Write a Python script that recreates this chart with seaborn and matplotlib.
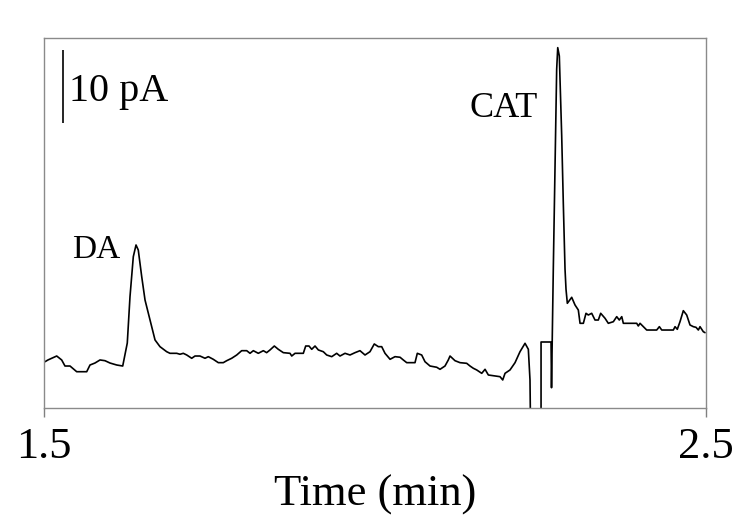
import numpy as np
import pandas as pd
import matplotlib
matplotlib.use("Agg")
import matplotlib.pyplot as plt
import seaborn as sns

# electropherogram trace: time (min) and current (pA)
time_min = [
    1.5015, 1.5060, 1.5192, 1.5267, 1.5317, 1.5393, 1.5494, 1.5569, 1.5645, 1.5695,
    1.5770, 1.5846, 1.5921, 1.5997, 1.6098, 1.6189, 1.6258, 1.6299, 1.6349, 1.6390,
    1.6424, 1.6476, 1.6526, 1.6601, 1.6677, 1.6752, 1.6853, 1.6903, 1.7005, 1.7054,
    1.7104, 1.7156, 1.7231, 1.7281, 1.7356, 1.7432, 1.7482, 1.7557, 1.7633, 1.7708,
    1.7760, 1.7835, 1.7911, 1.7986, 1.8062, 1.8112, 1.8162, 1.8237, 1.8313, 1.8363,
    1.8414, 1.8479, 1.8539, 1.8615, 1.8716, 1.8742, 1.8792, 1.8917, 1.8953, 1.9003,
    1.9044, 1.9094, 1.9144, 1.9219, 1.9270, 1.9346, 1.9421, 1.9471, 1.9547, 1.9622,
    1.9698, 1.9773, 1.9849, 1.9924, 1.9989, 2.0050, 2.0101, 2.0151, 2.0227, 2.0302,
    2.0378, 2.0427, 2.0479, 2.0579, 2.0604, 2.0639, 2.0705, 2.0755, 2.0831, 2.0932,
    2.0982, 2.1057, 2.1107, 2.1133, 2.1208, 2.1284, 2.1385, 2.1435, 2.1485, 2.1536,
    2.1612, 2.1662, 2.1712, 2.1888, 2.1929, 2.1964, 2.2039, 2.2115, 2.2190, 2.2266,
    2.2316, 2.2341, 2.2352, 2.2508, 2.2508, 2.2659, 2.2666, 2.2678, 2.2693, 2.2719,
    2.2744, 2.2760, 2.2784, 2.2820, 2.2844, 2.2870, 2.2885, 2.2905, 2.2971, 2.3021,
    2.3071, 2.3097, 2.3147, 2.3187, 2.3222, 2.3273, 2.3323, 2.3373, 2.3409, 2.3474,
    2.3524, 2.3600, 2.3651, 2.3690, 2.3727, 2.3751, 2.3953, 2.3977, 2.4003, 2.4053,
    2.4104, 2.4255, 2.4295, 2.4331, 2.4506, 2.4532, 2.4566, 2.4607, 2.4657, 2.4708,
    2.4758, 2.4808, 2.4849, 2.4884, 2.4909, 2.4959, 2.4985,
]
current_pA = [
    6.34, 6.58, 7.12, 6.58, 5.75, 5.75, 4.97, 4.97, 4.97, 5.89,
    6.16, 6.58, 6.48, 6.16, 5.89, 5.75, 8.90, 15.25, 20.73, 22.33,
    21.64, 17.99, 14.79, 12.05, 9.32, 8.40, 7.71, 7.49, 7.49, 7.36,
    7.49, 7.26, 6.81, 7.12, 7.12, 6.81, 7.03, 6.67, 6.21, 6.21,
    6.48, 6.81, 7.26, 7.85, 7.85, 7.49, 7.85, 7.49, 7.85, 7.58,
    7.95, 8.49, 8.04, 7.58, 7.49, 7.12, 7.49, 7.49, 8.49, 8.49,
    8.04, 8.49, 7.95, 7.71, 7.26, 7.03, 7.49, 7.12, 7.49, 7.26,
    7.58, 7.85, 7.26, 7.71, 8.77, 8.40, 8.40, 7.49, 6.67, 7.03,
    6.95, 6.58, 6.21, 6.21, 6.21, 7.49, 7.26, 6.34, 5.75, 5.58,
    5.30, 5.75, 6.58, 7.12, 6.48, 6.21, 6.12, 5.75, 5.44, 5.21,
    4.75, 5.30, 4.52, 4.29, 3.84, 4.75, 5.21, 6.21, 7.71, 8.86,
    8.04, 3.84, -5.00, -5.00, 9.04, 9.04, 2.78, 10.18, 19.00, 32.70,
    46.40, 49.36, 48.22, 37.26, 28.12, 19.04, 16.26, 14.34, 15.16, 14.11,
    13.42, 11.60, 11.60, 12.97, 12.74, 12.97, 12.05, 12.05, 12.97, 12.29,
    11.60, 11.82, 12.51, 12.05, 12.51, 11.60, 11.60, 11.23, 11.60, 11.14,
    10.68, 10.68, 11.14, 10.68, 10.68, 11.14, 10.78, 11.82, 13.33, 12.74,
    11.37, 11.14, 11.05, 10.68, 11.14, 10.45, 10.32,
]

tick_values = [1.5, 2.5]
tick_labels = ["1.5", "2.5"]

# 10 pA scale bar
scale_x = 1.5287
scale_bottom = 39.0
scale_len = 10

peak_labels = ["DA", "CAT"]
peak_label_x = [1.5430, 2.1430]
peak_label_y = [20.5, 39.9]
peak_label_size = [24, 26]

df = pd.DataFrame({"time": time_min, "current": current_pA})

sns.set_theme(style="white")
plt.rcParams["font.family"] = ["Liberation Serif", "DejaVu Serif"]
plt.rcParams["text.color"] = "black"
plt.rcParams["axes.labelcolor"] = "black"
plt.rcParams["xtick.color"] = "black"

fig = plt.figure(figsize=(7.56, 5.22), dpi=100)
ax = fig.add_axes([0.0582, 0.2184, 0.8757, 0.7088])

sns.lineplot(data=df, x="time", y="current", sort=False, estimator=None,
             color="black", linewidth=1.2, ax=ax)

ax.vlines(scale_x, scale_bottom, scale_bottom + scale_len, color="black", linewidth=1.2)
ax.text(scale_x + 0.0085, 42.05, f"{scale_len} pA", fontsize=29, ha="left", va="baseline")

for lab, x, y, s in zip(peak_labels, peak_label_x, peak_label_y, peak_label_size):
    ax.text(x, y, lab, fontsize=s, ha="left", va="baseline")

ax.set_xlim(1.5, 2.5)
ax.set_ylim(0, 50.68)
ax.set_xticks(tick_values)
ax.set_xticklabels(tick_labels, fontsize=32)
ax.set_yticks([])
ax.tick_params(axis="x", direction="out", length=6.5, width=1, color="#808080",
               labelcolor="black", pad=7, bottom=True)
ax.set_xlabel("Time (min)", fontsize=32, labelpad=6)
ax.set_ylabel("")

for side in ["left", "right", "top", "bottom"]:
    ax.spines[side].set_color("#8a8a8a")
    ax.spines[side].set_linewidth(1)

fig.savefig("out.png", dpi=100)
